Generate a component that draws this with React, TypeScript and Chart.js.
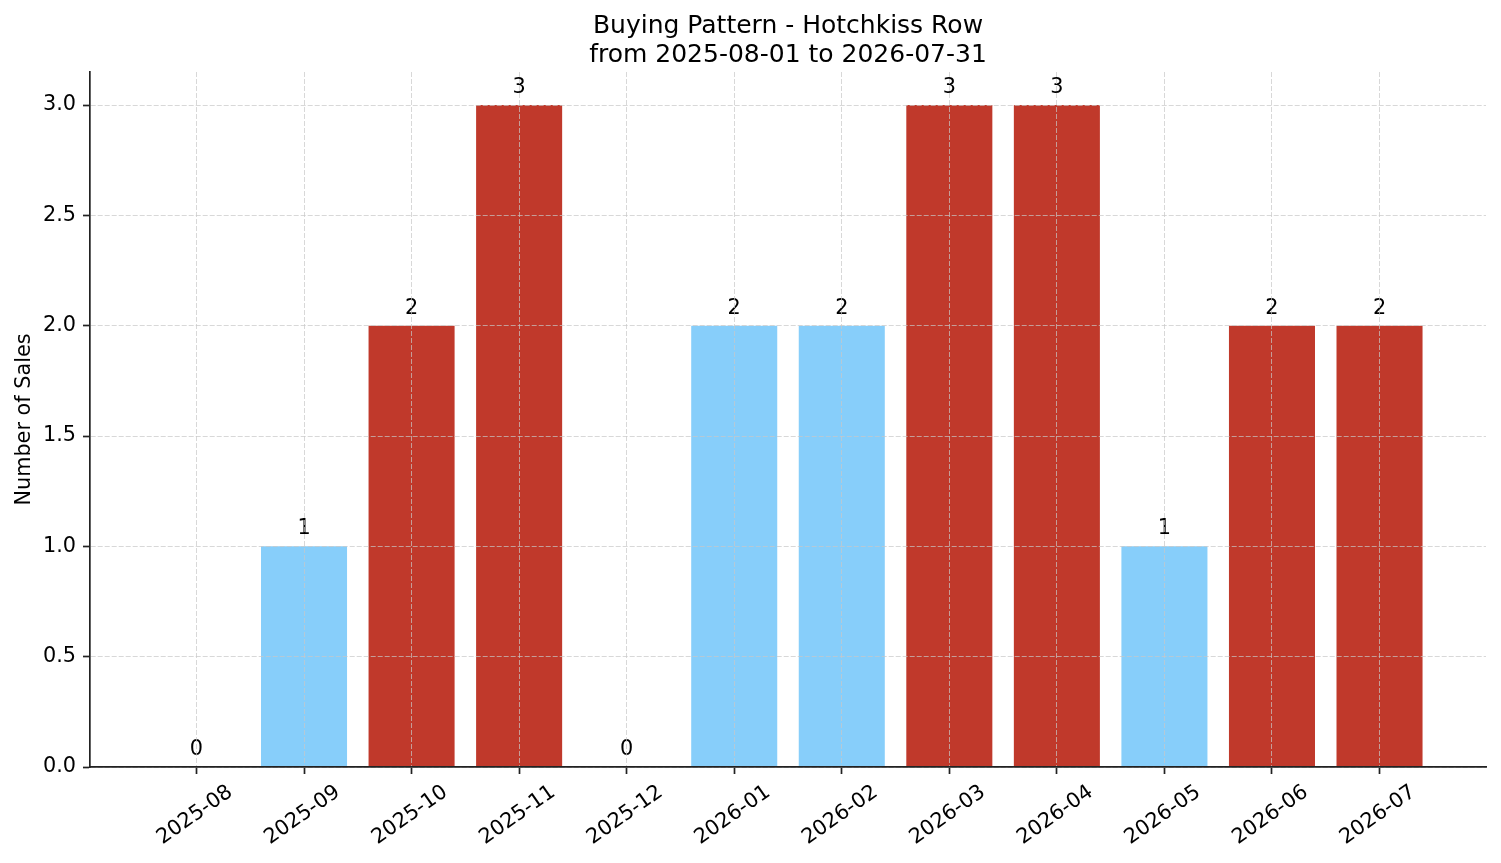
import { useEffect, useRef } from "react";
import { Chart, registerables } from "chart.js";

Chart.register(...registerables);

const FONT = "'DejaVu Sans', sans-serif";

const months = [
  "2025-08", "2025-09", "2025-10", "2025-11", "2025-12", "2026-01",
  "2026-02", "2026-03", "2026-04", "2026-05", "2026-06", "2026-07",
];
const sales = [0, 1, 2, 3, 0, 2, 2, 3, 3, 1, 2, 2];
const isPeakMonth = [false, false, true, true, false, false, false, true, true, false, true, true];
const yTicks = [0, 0.5, 1, 1.5, 2, 2.5, 3];
const yMax = 3.15;

const RED = "#C0392B";
const BLUE = "#87CEFA";
const AXIS = "#222222";
const GRID = "rgba(200, 200, 200, 0.7)";

// matplotlib-style margins around the bars
const xMargin = 0.05 * (months.length - 1 + 0.8);

const barLabels = {
  id: "barLabels",
  afterDatasetsDraw(chart: Chart) {
    const ctx = chart.ctx;
    const meta = chart.getDatasetMeta(0);
    ctx.save();
    ctx.font = `20.8px ${FONT}`;
    ctx.fillStyle = "#000";
    ctx.textAlign = "center";
    ctx.textBaseline = "alphabetic";
    meta.data.forEach((bar: any, i: number) => {
      ctx.fillText(String(sales[i]), bar.x, bar.y - 12);
    });
    ctx.restore();
  },
};

const BuyingPattern: React.FC = () => {
  const chartRef = useRef<HTMLCanvasElement | null>(null);
  const chartInstanceRef = useRef<Chart<"bar"> | null>(null);

  useEffect(() => {
    if (!chartRef.current) return;
    const ctx = chartRef.current.getContext("2d");
    if (!ctx) return;
    if (chartInstanceRef.current) chartInstanceRef.current.destroy();

    chartInstanceRef.current = new Chart(ctx, {
      type: "bar",
      data: {
        datasets: [
          {
            label: "Number of Sales",
            data: sales.map((v, i) => ({ x: i, y: v })) as any,
            backgroundColor: isPeakMonth.map((p) => (p ? RED : BLUE)),
            borderWidth: 0,
            barPercentage: 0.8,
            categoryPercentage: 1,
          },
        ],
      },
      options: {
        animation: false,
        responsive: true,
        maintainAspectRatio: false,
        layout: { padding: { left: 0, right: 15, top: 0, bottom: 0 } },
        plugins: {
          legend: { display: false },
          tooltip: { enabled: false },
          title: {
            display: true,
            fullSize: false,
            text: ["Buying Pattern - Hotchkiss Row", "from 2025-08-01 to 2026-07-31"],
            color: "#000",
            font: { family: FONT, size: 25, weight: "normal", lineHeight: 1.15 },
            padding: { top: 12, bottom: 2.5 },
          },
        },
        scales: {
          x: {
            type: "linear",
            offset: false,
            min: -0.4 - xMargin,
            max: months.length - 1 + 0.4 + xMargin,
            afterBuildTicks: (scale: any) => {
              scale.ticks = months.map((_, i) => ({ value: i }));
            },
            afterFit: (scale: any) => {
              scale.height = 96;
              scale.paddingLeft = 0;
              scale.paddingRight = 0;
            },
            ticks: {
              autoSkip: false,
              minRotation: 35,
              maxRotation: 35,
              labelOffset: 34,
              padding: 6,
              color: "#000",
              font: { family: FONT, size: 20.8 },
              callback: (v: any) => months[v as number] ?? "",
            },
            grid: {
              z: 1,
              offset: false,
              color: GRID,
              lineWidth: 1,
              drawTicks: true,
              tickLength: 7,
              tickWidth: 1.7,
              tickColor: AXIS,
            },
            border: { display: true, color: AXIS, width: 1.7, dash: [5, 2], z: 2 },
          },
          y: {
            min: 0,
            max: yMax,
            afterBuildTicks: (scale: any) => {
              scale.ticks = yTicks.map((v) => ({ value: v }));
            },
            afterFit: (scale: any) => {
              scale.width = 90;
              scale.paddingTop = 0;
              scale.paddingBottom = 0;
            },
            ticks: {
              padding: 7,
              color: "#000",
              font: { family: FONT, size: 20.8 },
              callback: (v: any) => Number(v).toFixed(1),
            },
            title: {
              display: true,
              text: "Number of Sales",
              color: "#000",
              font: { family: FONT, size: 20.8 },
              padding: { top: 12, bottom: 0 },
            },
            grid: {
              z: 1,
              color: GRID,
              lineWidth: 1,
              drawTicks: true,
              tickLength: 7,
              tickWidth: 1.7,
              tickColor: AXIS,
            },
            border: { display: true, color: AXIS, width: 1.7, dash: [5, 2], z: 2 },
          },
        },
      },
      plugins: [barLabels],
    });

    return () => {
      if (chartInstanceRef.current) {
        chartInstanceRef.current.destroy();
        chartInstanceRef.current = null;
      }
    };
  }, []);

  return (
    <div
      style={{
        position: "absolute",
        left: 0,
        top: 0,
        width: 1501,
        height: 863,
        background: "#fff",
      }}
    >
      <canvas ref={chartRef} />
    </div>
  );
};

export default function App() {
  return <BuyingPattern />;
}
